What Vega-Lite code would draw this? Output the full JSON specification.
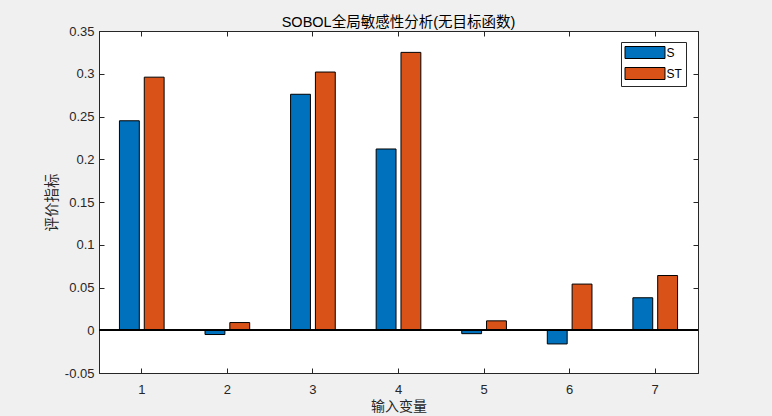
{
  "$schema": "https://vega.github.io/schema/vega-lite/v6.json",
  "width": 599,
  "height": 342,
  "autosize": "none",
  "padding": {"left": 99, "top": 31, "right": 74, "bottom": 43},
  "background": "#f0f0f0",
  "title": {
    "text": "SOBOL全局敏感性分析(无目标函数)",
    "font": "Liberation Sans, Noto Sans CJK SC",
    "fontSize": 14.5,
    "fontWeight": "normal",
    "color": "#000000",
    "anchor": "middle",
    "baseline": "bottom",
    "offset": -19
  },
  "data": {
    "values": [
      {"var": 1, "series": "S", "value": 0.245},
      {"var": 1, "series": "ST", "value": 0.296},
      {"var": 2, "series": "S", "value": -0.005},
      {"var": 2, "series": "ST", "value": 0.009},
      {"var": 3, "series": "S", "value": 0.276},
      {"var": 3, "series": "ST", "value": 0.302},
      {"var": 4, "series": "S", "value": 0.212},
      {"var": 4, "series": "ST", "value": 0.325},
      {"var": 5, "series": "S", "value": -0.004},
      {"var": 5, "series": "ST", "value": 0.011},
      {"var": 6, "series": "S", "value": -0.016},
      {"var": 6, "series": "ST", "value": 0.054},
      {"var": 7, "series": "S", "value": 0.038},
      {"var": 7, "series": "ST", "value": 0.064}
    ]
  },
  "layer": [
    {
      "mark": {"type": "bar", "stroke": "#000000", "strokeWidth": 1},
      "encoding": {
        "x": {
          "field": "var", "type": "ordinal",
          "scale": {"paddingInner": 0, "paddingOuter": -0.02},
          "axis": {
            "orient": "bottom", "title": "输入变量", "labelAngle": 0,
            "tickSize": -5, "labelPadding": 15, "titlePadding": 3,
            "titleFontSize": 14
          }
        },
        "xOffset": {
          "field": "series", "type": "nominal",
          "scale": {"paddingInner": 0.2, "paddingOuter": 0.824}
        },
        "y": {
          "field": "value", "type": "quantitative",
          "scale": {"domain": [-0.05, 0.35], "nice": false, "zero": false},
          "axis": {
            "orient": "left", "title": "评价指标",
            "values": [-0.05, 0, 0.05, 0.1, 0.15, 0.2, 0.25, 0.3, 0.35],
            "labelExpr": "datum.value === 0 ? '0' : toString(round(datum.value * 100) / 100)",
            "tickSize": -5, "labelPadding": 10, "titlePadding": 5
          }
        },
        "color": {
          "field": "series", "type": "nominal",
          "scale": {"domain": ["S", "ST"], "range": ["#0072BD", "#D95319"]},
          "legend": {
            "title": null, "orient": "none", "legendX": 522, "legendY": 11,
            "direction": "vertical"
          }
        }
      }
    },
    {
      "mark": {"type": "bar", "opacity": 0},
      "encoding": {
        "x": {
          "field": "var", "type": "ordinal",
          "axis": {"orient": "top", "title": null, "labels": false, "tickSize": -5}
        },
        "xOffset": {"field": "series", "type": "nominal"},
        "y": {
          "field": "value", "type": "quantitative",
          "axis": {
            "orient": "right", "title": null, "labels": false, "tickSize": -5,
            "values": [-0.05, 0, 0.05, 0.1, 0.15, 0.2, 0.25, 0.3, 0.35]
          }
        }
      }
    },
    {
      "mark": {"type": "rule", "color": "#000000", "strokeWidth": 1},
      "encoding": {"y": {"datum": 0, "type": "quantitative", "axis": null}}
    }
  ],
  "resolve": {"axis": {"x": "independent", "y": "independent"}},
  "config": {
    "view": {"fill": "#ffffff", "stroke": "#262626", "strokeWidth": 1},
    "axis": {
      "grid": false,
      "domain": true,
      "domainColor": "#262626",
      "tickColor": "#262626",
      "labelColor": "#262626",
      "labelFont": "Liberation Sans",
      "labelFontSize": 13,
      "titleFont": "Noto Sans CJK SC",
      "titleFontSize": 14.5,
      "titleFontWeight": "normal",
      "titleColor": "#262626"
    },
    "legend": {
      "strokeColor": "#262626",
      "fillColor": "#ffffff",
      "padding": 4,
      "symbolType": "M-3.333,-1H3.333V1H-3.333Z",
      "symbolSize": 144,
      "symbolStrokeColor": "#000000",
      "symbolStrokeWidth": 1,
      "symbolOpacity": 1,
      "symbolOffset": 13.5,
      "labelOffset": 15,
      "rowPadding": 4,
      "labelFont": "Liberation Sans",
      "labelFontSize": 12,
      "labelColor": "#000000"
    }
  }
}
